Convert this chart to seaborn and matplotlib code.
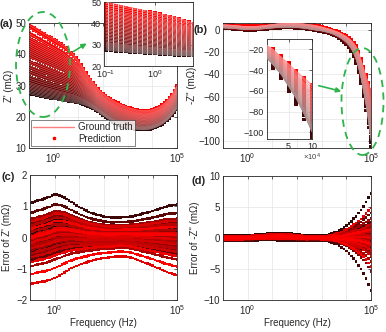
import numpy as np
import pandas as pd
import matplotlib
matplotlib.use("Agg")
import matplotlib.pyplot as plt
import seaborn as sns
from matplotlib.lines import Line2D
from matplotlib.patches import Ellipse, FancyArrowPatch

# ---------------- data ----------------
# measurement frequencies: 10 per decade, 0.1 Hz .. 100 kHz
decade_starts = [0.1, 1, 10, 100, 1e3, 1e4]
per_decade = [1.0, 1.26, 1.58, 2.0, 2.51, 3.16, 3.98, 5.01, 6.31, 7.94]
freqs = [d * m for d in decade_starts for m in per_decade] + [1e5]

# Z' of the highest (red) and lowest (dark) ground-truth curves, mOhm
zr_top = [50, 49.5, 49, 48.5, 48, 47.5, 47, 46.5, 46, 45.5,
          45, 44.5, 44, 43.5, 43, 42.3, 41.5, 40.8, 40, 39,
          38, 36.8, 35.5, 34.2, 33, 32, 31, 30, 29, 28.2,
          27.5, 26.9, 26.3, 25.8, 25.3, 24.8, 24.4, 24.0, 23.7, 23.4,
          23.1, 22.8, 22.6, 22.4, 22.2, 22.1, 22.0, 22.0, 22.0, 22.1,
          22.3, 22.6, 22.9, 23.3, 23.8, 24.4, 25.2, 26.1, 27.2, 28.5,
          30.0]
zr_bot = [27.5, 27.2, 27.0, 26.8, 26.6, 26.4, 26.2, 26.05, 25.9, 25.75,
          25.6, 25.45, 25.3, 25.15, 25.0, 24.9, 24.8, 24.7, 24.6, 24.45,
          24.3, 24.1, 23.9, 23.6, 23.3, 22.9, 22.5, 22.0, 21.5, 20.95,
          20.4, 19.85, 19.3, 18.8, 18.3, 17.9, 17.5, 17.2, 16.9, 16.65,
          16.4, 16.25, 16.1, 16.0, 15.9, 15.85, 15.8, 15.8, 15.9, 16.0,
          16.2, 16.5, 16.8, 17.2, 17.6, 18.2, 18.8, 19.6, 20.5, 21.5,
          22.5]
# -Z'' of the red and dark envelope curves, mOhm
zi_top = [4.5, 4.4, 4.3, 4.15, 4.0, 3.8, 3.6, 3.4, 3.2, 3.1,
          3.0, 3.0, 3.0, 3.1, 3.2, 3.4, 3.6, 3.9, 4.2, 4.5,
          4.8, 5.05, 5.3, 5.45, 5.6, 5.7, 5.8, 5.8, 5.8, 5.75,
          5.7, 5.55, 5.4, 5.2, 5.0, 4.7, 4.4, 4.0, 3.6, 3.1,
          2.6, 2.0, 1.3, 0.7, 0.0, -0.7, -1.5, -2.4, -3.5, -4.7,
          -6.0, -7.6, -9.5, -12.0, -15.0, -20.0, -27.0, -34.0, -41.0, -47.5,
          -54.0]
zi_bot = [1.5, 1.4, 1.3, 1.15, 1.0, 0.8, 0.6, 0.4, 0.2, 0.1,
          0.0, 0.0, 0.0, 0.1, 0.2, 0.4, 0.6, 0.8, 1.0, 1.2,
          1.4, 1.6, 1.8, 1.9, 2.0, 2.05, 2.1, 2.05, 2.0, 1.9,
          1.8, 1.6, 1.4, 1.1, 0.8, 0.45, 0.1, -0.25, -0.6, -0.9,
          -1.2, -1.7, -2.2, -2.8, -3.5, -4.4, -5.5, -6.7, -8.0, -9.6,
          -11.5, -14.0, -17.0, -21.5, -27.0, -35.0, -44.0, -56.0, -68.0, -83.0,
          -100.0]

# error envelopes (prediction - ground truth), mOhm
err_re_hi = [1.1, 1.12, 1.15, 1.18, 1.2, 1.22, 1.25, 1.28, 1.3, 1.34,
             1.38, 1.37, 1.35, 1.32, 1.28, 1.23, 1.18, 1.13, 1.08, 1.03,
             0.98, 0.94, 0.9, 0.86, 0.82, 0.79, 0.76, 0.74, 0.72, 0.7,
             0.68, 0.66, 0.65, 0.64, 0.64, 0.64, 0.64, 0.64, 0.65, 0.65,
             0.66, 0.67, 0.68, 0.7, 0.72, 0.74, 0.76, 0.78, 0.8, 0.82,
             0.85, 0.88, 0.9, 0.93, 0.95, 0.98, 1.0, 1.02, 1.03, 1.04,
             1.05]
err_re_lo = [-1.5, -1.48, -1.45, -1.44, -1.42, -1.41, -1.4, -1.38, -1.36, -1.33,
             -1.3, -1.26, -1.22, -1.17, -1.12, -1.07, -1.02, -0.98, -0.94, -0.91,
             -0.88, -0.85, -0.82, -0.8, -0.77, -0.75, -0.72, -0.7, -0.69, -0.67,
             -0.66, -0.65, -0.64, -0.63, -0.62, -0.61, -0.6, -0.6, -0.6, -0.61,
             -0.62, -0.64, -0.66, -0.69, -0.72, -0.75, -0.78, -0.81, -0.84, -0.87,
             -0.9, -0.94, -0.97, -1.0, -1.04, -1.07, -1.1, -1.13, -1.16, -1.18,
             -1.2]
err_im_hi = [0.4, 0.4, 0.4, 0.4, 0.4, 0.4, 0.4, 0.4, 0.42, 0.43,
             0.45, 0.47, 0.5, 0.52, 0.55, 0.58, 0.62, 0.66, 0.7, 0.72,
             0.75, 0.78, 0.8, 0.8, 0.8, 0.79, 0.78, 0.75, 0.72, 0.67,
             0.62, 0.56, 0.5, 0.46, 0.42, 0.4, 0.38, 0.37, 0.36, 0.38,
             0.4, 0.45, 0.5, 0.6, 0.7, 0.85, 1.0, 1.2, 1.4, 1.7,
             2.0, 2.35, 2.7, 3.1, 3.5, 4.0, 4.5, 5.1, 5.8, 6.5,
             7.2]
err_im_lo = [-0.4, -0.4, -0.4, -0.4, -0.4, -0.4, -0.4, -0.4, -0.4, -0.4,
             -0.4, -0.39, -0.38, -0.37, -0.36, -0.35, -0.35, -0.35, -0.35, -0.35,
             -0.35, -0.35, -0.36, -0.37, -0.38, -0.39, -0.4, -0.4, -0.4, -0.4,
             -0.4, -0.4, -0.4, -0.4, -0.4, -0.39, -0.38, -0.37, -0.36, -0.38,
             -0.4, -0.45, -0.5, -0.6, -0.7, -0.85, -1.0, -1.25, -1.5, -1.8,
             -2.1, -2.5, -2.9, -3.35, -3.8, -4.4, -5.0, -5.7, -6.5, -7.5,
             -8.5]

# per-cell position between the envelopes (0 = dark/low, 1 = red/high)
levels = [0.00, 0.02, 0.04, 0.06, 0.08, 0.10, 0.12, 0.14, 0.16, 0.19, 0.22, 0.25,
          0.28, 0.31, 0.34, 0.37, 0.40, 0.43, 0.46, 0.49, 0.52, 0.55, 0.58, 0.61,
          0.64, 0.67, 0.70, 0.73, 0.76, 0.79, 0.82, 0.85, 0.89, 0.93, 0.97, 1.00]
fac_re = [0.62, 0.48, 0.70, 1.00, 0.55, 0.40, 0.66, 0.52, 0.88, 0.30, 0.58, 0.45,
          0.74, 0.50, 0.35, 0.60, 0.42, 0.80, 0.53, 0.22, 0.64, 0.47, 0.72, 0.38,
          0.56, 0.68, 0.33, 0.44, 0.77, 0.51, 0.00, 0.59, 0.27, 0.68, 0.57, 0.12]
fac_im = [0.55, 1.00, 0.40, 0.62, 0.00, 0.48, 0.70, 0.35, 0.58, 0.52, 0.80, 0.44,
          0.60, 0.20, 0.50, 0.66, 0.38, 0.56, 0.74, 0.46, 0.53, 0.30, 0.64, 0.50,
          0.43, 0.57, 0.68, 0.36, 0.61, 0.49, 0.85, 0.41, 0.54, 0.25, 0.63, 0.47]

# ---------------- build table ----------------
f = np.array(freqs)
A = {n: np.array(v, dtype=float) for n, v in dict(
    zr_top=zr_top, zr_bot=zr_bot, zi_top=zi_top, zi_bot=zi_bot,
    erh=err_re_hi, erl=err_re_lo, eih=err_im_hi, eil=err_im_lo).items()}
frames = []
for k, lev in enumerate(levels):
    zr = A["zr_bot"] + lev * (A["zr_top"] - A["zr_bot"])
    zi = A["zi_bot"] + lev * (A["zi_top"] - A["zi_bot"])
    er = A["erl"] + fac_re[k] * (A["erh"] - A["erl"])
    ei = A["eil"] + fac_im[k] * (A["eih"] - A["eil"])
    frames.append(pd.DataFrame(dict(curve=f"c{k:02d}", f=f, zr=zr, zi=zi,
                                    zr_pred=zr + er, zi_pred=zi + ei,
                                    err_re=er, err_im=ei)))
df = pd.concat(frames, ignore_index=True)

dot_pal, line_pal = {}, {}
for k, lev in enumerate(levels):
    r = 0.12 + 0.88 * lev ** 0.7
    c = np.array([r, 0.03 * (1 - lev), 0.03 * (1 - lev)])
    dot_pal[f"c{k:02d}"] = tuple(c)
    line_pal[f"c{k:02d}"] = tuple(c + (1 - c) * 0.55)

# ---------------- style ----------------
sns.set_theme(style="white")
plt.rcParams.update({
    "font.family": ["Liberation Sans", "DejaVu Sans"],
    "font.size": 7, "axes.labelsize": 7, "xtick.labelsize": 7,
    "ytick.labelsize": 7, "legend.fontsize": 7,
    "mathtext.fontset": "custom", "mathtext.rm": "Liberation Sans",
    "mathtext.it": "Liberation Sans:italic", "axes.linewidth": 0.6,
})

W, H = 386, 332
fig = plt.figure(figsize=(W / 100, H / 100), dpi=100)


def rect(x0, y0, x1, y1):
    return [x0 / W, 1 - y1 / H, (x1 - x0) / W, (y1 - y0) / H]


def style_ax(ax, fs=7):
    ax.tick_params(direction="in", length=2, width=0.5, top=True, right=True,
                   labelsize=fs, pad=2, colors="#262626")
    for s in ax.spines.values():
        s.set_color("#262626")
        s.set_linewidth(0.6)
    ax.grid(True, color="#e4e4e4", lw=0.5)
    ax.set_axisbelow(True)


decades = [1e-1, 1, 10, 100, 1e3, 1e4, 1e5]
dec_labels = ["", "$10^{0}$", "", "", "", "", "$10^{5}$"]


def set_freq_axis(ax):
    ax.set_xscale("log")
    ax.set_xlim(0.1, 1e5)
    ax.set_xticks(decades)
    ax.set_xticklabels(dec_labels)
    ax.minorticks_off()


def draw_curves(ax, ycol, ypred, lw=0.3, s=7):
    sns.scatterplot(data=df, x="f", y=ypred, hue="curve", palette=dot_pal, s=s,
                    linewidth=0, marker="s", legend=False, ax=ax, zorder=2)
    sns.lineplot(data=df, x="f", y=ycol, hue="curve", palette=line_pal,
                 estimator=None, lw=lw, legend=False, ax=ax, zorder=3)


# (a)
axa = fig.add_axes(rect(29, 23, 177, 148))
draw_curves(axa, "zr", "zr_pred")
set_freq_axis(axa)
axa.set_ylim(10, 50)
axa.set_yticks([10, 20, 30, 40, 50])
axa.set_xlabel("")
axa.set_ylabel("Z' (mΩ)", labelpad=1)
style_ax(axa)
handles = [Line2D([], [], color="#ff7f7f", lw=1.0),
           Line2D([], [], color="red", marker="s", ms=1.6, ls="none")]
leg = axa.legend(handles, ["Ground truth", "Prediction"], loc="lower left",
                 fontsize=7, frameon=True, fancybox=False, borderaxespad=0.25,
                 handlelength=4.2, handletextpad=0.4, borderpad=0.2,
                 labelspacing=0.15)
leg.get_frame().set_edgecolor("#262626")
leg.get_frame().set_linewidth(0.5)
leg.set_zorder(20)

# (b)
axb = fig.add_axes(rect(223, 23, 371, 148))
draw_curves(axb, "zi", "zi_pred")
set_freq_axis(axb)
axb.set_ylim(-106, 6)
axb.set_yticks([-100, -80, -60, -40, -20, 0])
axb.set_xlabel("")
axb.set_ylabel("-Z'' (mΩ)", labelpad=1)
style_ax(axb)

# (c)
axc = fig.add_axes(rect(30, 175, 177, 300))
sns.scatterplot(data=df, x="f", y="err_re", hue="curve", palette=dot_pal, s=3.5,
                linewidth=0, marker="s", legend=False, ax=axc)
set_freq_axis(axc)
axc.set_ylim(-2, 2)
axc.set_yticks([-2, -1, 0, 1, 2])
axc.set_xlabel("Frequency (Hz)", labelpad=1)
axc.set_ylabel("Error of Z' (mΩ)", labelpad=3)
style_ax(axc)

# (d)
axd = fig.add_axes(rect(223, 176, 371, 300))
sns.scatterplot(data=df, x="f", y="err_im", hue="curve", palette=dot_pal, s=3.5,
                linewidth=0, marker="s", legend=False, ax=axd)
set_freq_axis(axd)
axd.set_ylim(-10, 10)
axd.set_yticks([-10, -5, 0, 5, 10])
axd.set_xlabel("Frequency (Hz)", labelpad=1)
axd.set_ylabel("Error of -Z'' (mΩ)", labelpad=3)
style_ax(axd)

# inset of (a)
ia = fig.add_axes(rect(104, 2, 193, 66))
ia.set_facecolor("white")
draw_curves(ia, "zr", "zr_pred", lw=0.45, s=8)
ia.set_xscale("log")
ia.set_xlim(0.091, 6)
ia.set_ylim(20, 50)
ia.set_xticks([0.1, 1])
ia.set_xticklabels(["$10^{-1}$", "$10^{0}$"])
ia.minorticks_off()
ia.set_yticks([20, 30, 40, 50])
ia.set_xlabel("")
ia.set_ylabel("")
style_ax(ia, fs=6.5)

# inset of (b)
ib = fig.add_axes(rect(267, 39, 312, 139))
ib.set_facecolor("white")
draw_curves(ib, "zi", "zi_pred", lw=0.45, s=8)
ib.set_xscale("log")
ib.set_xlim(2.64e4, 1e5)
ib.set_ylim(-106.5, -10)
ib.set_xticks([5e4, 1e5])
ib.set_xticklabels(["5", "10"])
ib.minorticks_off()
ib.set_yticks([-100, -80, -60, -40, -20])
ib.set_xlabel("")
ib.set_ylabel("")
style_ax(ib, fs=6.5)
ib.text(1.0, -0.13, r"$\times10^{4}$", transform=ib.transAxes, ha="center",
        va="top", fontsize=5.5, color="#404040")

# panel letters
for (x, y, t) in [(0, 27, "(a)"), (193, 33, "(b)"), (1, 180, "(c)"), (192, 184, "(d)")]:
    fig.text(x / W, 1 - y / H, t, fontsize=8, fontweight="bold", ha="left",
             va="baseline")

# green highlight ellipses and arrows
green = "#2db34a"
for (cx, cy, w, h) in [(43, 64.5, 54, 105), (362.5, 101.5, 42, 107)]:
    e = Ellipse((cx / W, 1 - cy / H), w / W, h / H, transform=fig.transFigure,
                fill=False, edgecolor=green, lw=1.3, ls=(0, (4, 3)), zorder=10)
    fig.add_artist(e)
for (x0, y0, x1, y1) in [(71, 53, 89, 42), (316, 85, 344, 92)]:
    a = FancyArrowPatch((x0 / W, 1 - y0 / H), (x1 / W, 1 - y1 / H),
                        transform=fig.transFigure, arrowstyle="-|>",
                        mutation_scale=7, color=green, lw=1.2, zorder=10)
    fig.add_artist(a)

fig.savefig("out.png", dpi=100)
